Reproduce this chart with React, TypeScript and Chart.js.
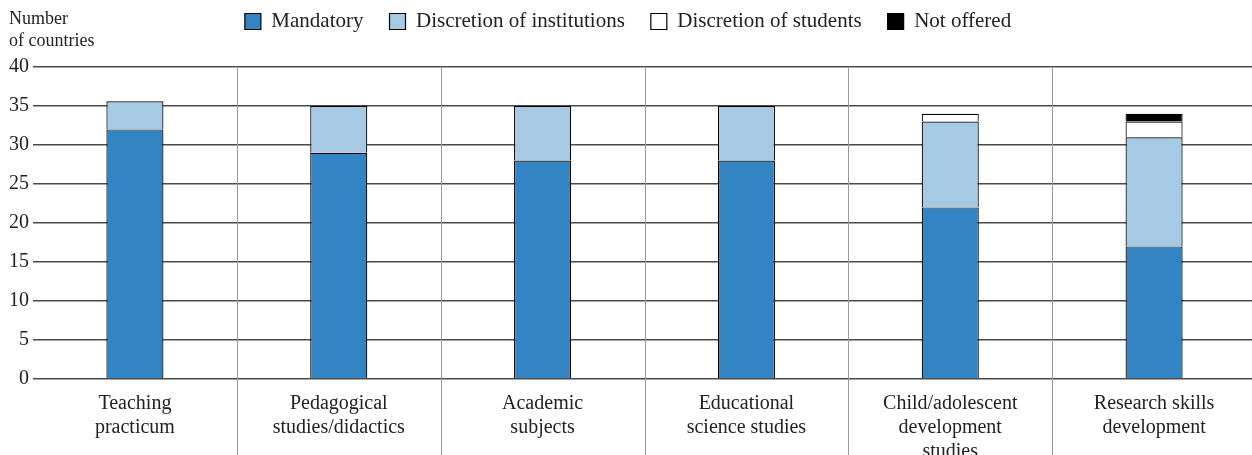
import React, { useEffect, useRef } from "react";
import { Chart, registerables } from "chart.js";

Chart.register(...registerables);

const categories = [
  ["Teaching", "practicum"],
  ["Pedagogical", "studies/didactics"],
  ["Academic", "subjects"],
  ["Educational", "science studies"],
  ["Child/adolescent", "development", "studies"],
  ["Research skills", "development"],
];
const mandatory = [32, 29, 28, 28, 22, 17];
const institutions = [3.6, 6, 7, 7, 11, 14];
const students = [0, 0, 0, 0, 1, 2];
const notOffered = [0, 0, 0, 0, 0, 1];
const yTicks = [0, 5, 10, 15, 20, 25, 30, 35, 40];
const yTitle = ["Number", "of countries"];

const FONT = "'Liberation Serif', serif";
const W = 1258;
const H = 470;

export default function App() {
  const ref = useRef<HTMLCanvasElement | null>(null);
  useEffect(() => {
    document.body.style.margin = "0";
    document.body.style.overflow = "hidden";
    document.documentElement.style.overflow = "hidden";
    const canvas = ref.current!;
    const legendHeight = {
      id: "legendHeight",
      beforeInit(chart: any) {
        const orig = chart.legend.fit;
        chart.legend.fit = function () {
          orig.call(this);
          this.height = 67;
        };
      },
      afterLayout(chart: any) {
        chart.legend.top -= 15;
        chart.legend.bottom -= 15;
      },
    };
    const extras = {
      id: "extras",
      afterDraw(chart: any) {
        const ctx = chart.ctx;
        const x = chart.scales.x;
        const area = chart.chartArea;
        ctx.save();
        ctx.strokeStyle = "#9a9a9a";
        ctx.lineWidth = 1;
        for (let i = 0; i < categories.length - 1; i++) {
          const px = Math.round((x.getPixelForValue(i) + x.getPixelForValue(i + 1)) / 2) + 0.5;
          ctx.beginPath();
          ctx.moveTo(px, area.top);
          ctx.lineTo(px, chart.height);
          ctx.stroke();
        }
        ctx.fillStyle = "#222";
        ctx.font = "18px " + FONT;
        ctx.textAlign = "left";
        ctx.textBaseline = "alphabetic";
        ctx.fillText(yTitle[0], 9, 24);
        ctx.fillText(yTitle[1], 9, 46);
        ctx.restore();
      },
    };
    const common = {
      borderColor: "#000",
      borderWidth: 1.2,
      borderSkipped: "start",
      inflateAmount: 0,
      barPercentage: 0.28,
      categoryPercentage: 1,
    };
    const chart = new Chart(canvas, {
      type: "bar",
      data: {
        labels: categories as any,
        datasets: [
          { label: "Mandatory", data: mandatory, backgroundColor: "#3384c2", ...common },
          { label: "Discretion of institutions", data: institutions, backgroundColor: "#a7cae4", ...common },
          { label: "Discretion of students", data: students, backgroundColor: "#ffffff", ...common },
          { label: "Not offered", data: notOffered, backgroundColor: "#000000", ...common },
        ],
      },
      options: {
        animation: false,
        responsive: false,
        maintainAspectRatio: false,
        devicePixelRatio: 1,
        layout: { padding: { left: 0, right: 2, top: 0, bottom: 0 } },
        plugins: {
          tooltip: { enabled: false },
          legend: {
            position: "top",
            align: "center",
            labels: {
              boxWidth: 16,
              boxHeight: 16,
              padding: 26,
              color: "#222",
              font: { family: FONT, size: 21 },
            },
          },
        },
        scales: {
          x: {
            stacked: true,
            grid: { display: false },
            border: { display: false },
            ticks: {
              color: "#222",
              font: { family: FONT, size: 20, lineHeight: 1.2 },
              padding: 5,
              maxRotation: 0,
              autoSkip: false,
            },
            afterFit(scale: any) {
              scale.height = H - 379;
            },
          },
          y: {
            stacked: true,
            min: 0,
            max: 40,
            afterBuildTicks(scale: any) {
              scale.ticks = yTicks.map((v) => ({ value: v }));
            },
            grid: { color: "#4a4a4a", lineWidth: 1.5, drawTicks: false },
            border: { display: false },
            ticks: { color: "#222", font: { family: FONT, size: 20 }, padding: 4 },
            afterFit(scale: any) {
              scale.width = 33;
            },
          },
        },
      },
      plugins: [legendHeight, extras],
    });
    return () => chart.destroy();
  }, []);
  return (
    <div style={{ width: W, height: H }}>
      <canvas ref={ref} width={W} height={H} style={{ width: W, height: H, display: "block" }} />
    </div>
  );
}
